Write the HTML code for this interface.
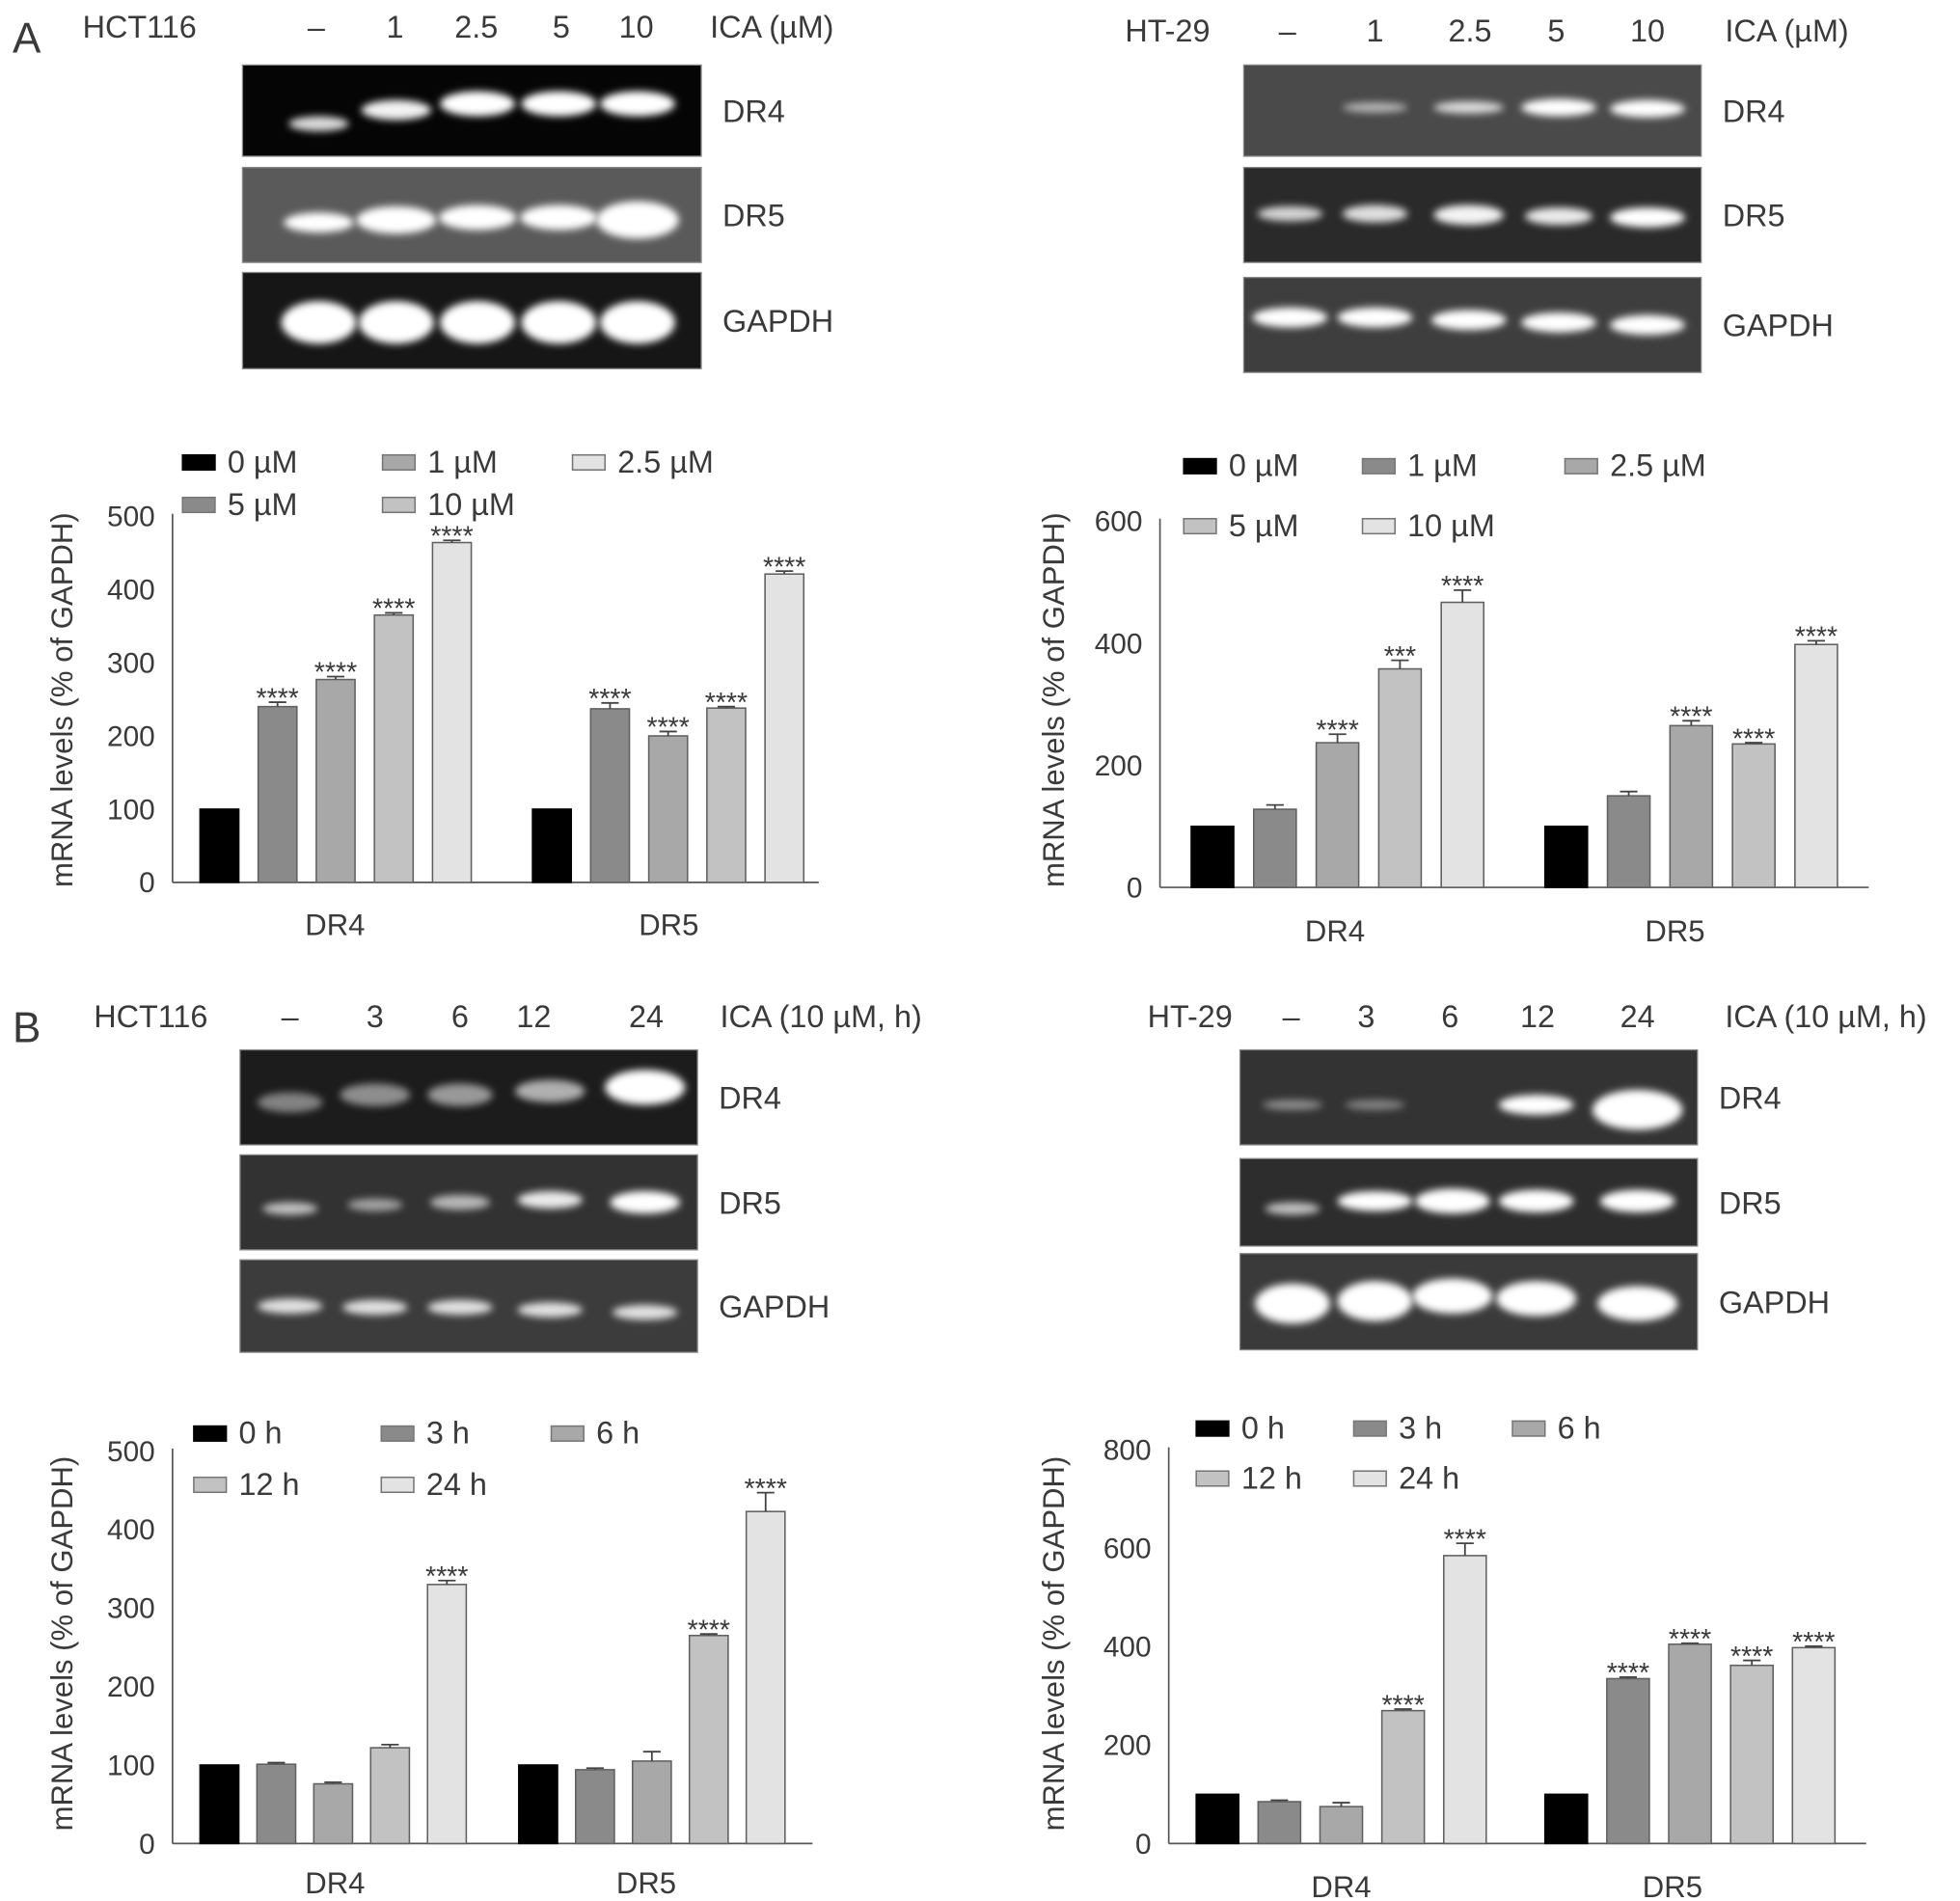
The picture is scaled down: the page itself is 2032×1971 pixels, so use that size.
<!DOCTYPE html>
<html><head><meta charset="utf-8">
<style>
html,body{margin:0;padding:0;background:#fff;}
svg{display:block;}
text{font-family:"Liberation Sans",sans-serif;fill:#3a3a3a;}
</style></head>
<body>
<svg id="fig" width="2032" height="1971" viewBox="0 0 1568 1521" xmlns="http://www.w3.org/2000/svg">
<defs>
<filter id="blur" x="-30%" y="-100%" width="160%" height="300%"><feGaussianBlur stdDeviation="3"/></filter>
</defs>
<g id="root"></g>
</svg>
<script>
// ---- Chart data (top level) ----
var groups = ["DR4", "DR5"];
var aLeftDR4 = [100, 240, 277, 365, 464];
var aLeftDR5 = [100, 237, 200, 238, 421];
var aLeftErr4 = [0, 6, 4, 3, 3];
var aLeftErr5 = [0, 8, 6, 2, 4];
var aLeftStar4 = ["", "****", "****", "****", "****"];
var aLeftStar5 = ["", "****", "****", "****", "****"];
var aLeftTicks = [0, 100, 200, 300, 400, 500];

var aRightDR4 = [100, 128, 237, 358, 467];
var aRightDR5 = [100, 150, 265, 235, 398];
var aRightErr4 = [0, 7, 14, 14, 20];
var aRightErr5 = [0, 7, 8, 2, 6];
var aRightStar4 = ["", "", "****", "***", "****"];
var aRightStar5 = ["", "", "****", "****", "****"];
var aRightTicks = [0, 200, 400, 600];

var bLeftDR4 = [100, 101, 76, 122, 330];
var bLeftDR5 = [100, 94, 105, 265, 423];
var bLeftErr4 = [0, 2, 2, 4, 5];
var bLeftErr5 = [0, 2, 12, 2, 24];
var bLeftStar4 = ["", "", "", "", "****"];
var bLeftStar5 = ["", "", "", "****", "****"];
var bLeftTicks = [0, 100, 200, 300, 400, 500];

var bRightDR4 = [100, 85, 75, 270, 585];
var bRightDR5 = [100, 335, 405, 362, 398];
var bRightErr4 = [0, 3, 8, 3, 25];
var bRightErr5 = [0, 3, 2, 10, 3];
var bRightStar4 = ["", "", "", "****", "****"];
var bRightStar5 = ["", "****", "****", "****", "****"];
var bRightTicks = [0, 200, 400, 600, 800];

var concLabels = ["0 \u00b5M", "1 \u00b5M", "2.5 \u00b5M", "5 \u00b5M", "10 \u00b5M"];
var timeLabels = ["0 h", "3 h", "6 h", "12 h", "24 h"];
// ------------------------------

var NS = "http://www.w3.org/2000/svg";
var root = document.getElementById("root");
var seriesFill = ["#000000", "#8a8a8a", "#a8a8a8", "#c2c2c2", "#e3e3e3"];

function el(tag, attrs, parent) {
  var e = document.createElementNS(NS, tag);
  for (var k in attrs) e.setAttribute(k, attrs[k]);
  (parent || root).appendChild(e);
  return e;
}
function txt(str, x, y, size, anchor, parent) {
  var t = el("text", {x: x, y: y, "font-size": size, "text-anchor": anchor || "start"}, parent);
  t.textContent = str;
  return t;
}

function chart(cfg) {
  var g = el("g", {});
  
  
  var ymax = cfg.ticks[cfg.ticks.length - 1];
  function yS(v) { return cfg.y0 - (v / ymax) * (cfg.y0 - cfg.yTop); }
  var ya = el("line", {x1: cfg.ax, y1: cfg.yTop - 2, x2: cfg.ax, y2: cfg.y0, stroke: "#555", "stroke-width": 1.3}, g);
  
  
  var xa = el("line", {x1: cfg.ax, y1: cfg.y0, x2: cfg.axEnd, y2: cfg.y0, stroke: "#555", "stroke-width": 1.3}, g);
  
  
  cfg.ticks.forEach(function (t) {
    var tl = txt(String(t), cfg.ax - 14, yS(t) + 8, 23, "end", g);
    
    
  });
  var yt = txt("mRNA levels (% of GAPDH)", 0, 0, 24, "middle", g);
  yt.setAttribute("transform", "translate(" + cfg.titleX + "," + cfg.titleY + ") rotate(-90)");
  
  
  var sets = [[cfg.v4, cfg.e4, cfg.s4], [cfg.v5, cfg.e5, cfg.s5]];
  sets.forEach(function (set, gi) {
    var start = cfg.starts[gi];
    set[0].forEach(function (v, i) {
      var x = start + i * cfg.pitch;
      var top = yS(v);
      var r = el("rect", {x: x, y: top, width: cfg.bw, height: cfg.y0 - top, fill: seriesFill[i], stroke: i ? "#606060" : "#000", "stroke-width": 1.2}, g);
      
      
      var err = set[1][i];
      var cx = x + cfg.bw / 2;
      var et = yS(v + err);
      if (err > 0) {
        var eb = el("path", {d: "M" + cx + "," + top + "V" + et + "M" + (cx - 7) + "," + et + "H" + (cx + 7), stroke: "#444", "stroke-width": 1.4, fill: "none"}, g);
        
        
      }
      if (set[2][i]) {
        var st = txt(set[2][i], cx, et + 4, 22, "middle", g);
        
        
      }
    });
    var cl = txt(groups[gi], cfg.catX[gi], cfg.catY, 24, "middle", g);
    
    
  });
  cfg.legend.forEach(function (L, i) {
    var sw = el("rect", {x: L[0], y: L[1] - 14, width: 26, height: 12, fill: cfg.legFill[i], stroke: i ? "#777" : "#000", "stroke-width": 1.2}, g);
    
    
    var lt = txt(cfg.labels[i], L[0] + 36, L[1], 25, "start", g);
    
    
  });
}

function gel(cfg) {
  var g = el("g", {});
  
  
  cfg.rows.forEach(function (row) {
    var r = el("rect", {x: cfg.x, y: row.y, width: cfg.w, height: row.h, fill: row.bg, stroke: "#888", "stroke-width": 1}, g);
    
    
    row.bands.forEach(function (b, i) {
      if (!b) return;
      var cx = cfg.lanes[i];
      var e = el("ellipse", {cx: cx, cy: row.y + b[0], rx: b[1], ry: b[2], fill: "#fff", opacity: b[3], filter: "url(#blur)"}, g);
      
      
    });
    var lt = txt(row.label, cfg.x + cfg.w + 17, row.y + row.h / 2 + 9, 25, "start", g);
    
    
  });
  cfg.header.forEach(function (h) {
    var t = txt(h[0], h[1], cfg.hy, 25, h[2] || "middle", g);
    
    
  });
}

var pA = txt("A", 10, 42, 34, "start");  
var pB = txt("B", 10, 834, 34, "start");  

gel({name: "gel-a-hct116", x: 194, w: 367, lanes: [255, 317, 382, 447, 510], hy: 30,
  header: [["HCT116", 66, "start"], ["\u2013", 253], ["1", 316], ["2.5", 381], ["5", 449], ["10", 509], ["ICA (\u00b5M)", 568, "start"]],
  rows: [
    {label: "DR4", y: 52, h: 73, bg: "#050505", bands: [[47, 24, 6, 0.85], [36, 28, 8, 0.95], [31, 30, 10, 1], [31, 30, 10, 1], [31, 30, 10, 1]]},
    {label: "DR5", y: 134, h: 76, bg: "#5a5a5a", bands: [[44, 28, 8, 1], [42, 32, 11, 1], [40, 31, 10, 1], [40, 31, 10, 1], [42, 33, 15, 1]]},
    {label: "GAPDH", y: 218, h: 77, bg: "#161616", bands: [[40, 30, 17, 1], [40, 30, 17, 1], [40, 30, 17, 1], [40, 30, 17, 1], [40, 30, 17, 1]]}
  ]});
gel({name: "gel-a-ht29", x: 995, w: 366, lanes: [1032, 1100, 1175, 1247, 1318], hy: 33,
  header: [["HT-29", 900, "start"], ["\u2013", 1030], ["1", 1100], ["2.5", 1176], ["5", 1245], ["10", 1318], ["ICA (\u00b5M)", 1380, "start"]],
  rows: [
    {label: "DR4", y: 52, h: 73, bg: "#4a4a4a", bands: [null, [34, 26, 4, 0.6], [34, 28, 5, 0.8], [34, 30, 7, 1], [35, 30, 7, 1]]},
    {label: "DR5", y: 134, h: 76, bg: "#2a2a2a", bands: [[37, 26, 6, 0.8], [37, 26, 7, 0.85], [38, 28, 8, 0.95], [39, 27, 7, 0.9], [40, 30, 8, 1]]},
    {label: "GAPDH", y: 222, h: 76, bg: "#3e3e3e", bands: [[32, 30, 8, 1], [32, 30, 8, 1], [34, 30, 8, 1], [36, 30, 8, 1], [38, 30, 8, 1]]}
  ]});
gel({name: "gel-b-hct116", x: 192, w: 366, lanes: [232, 300, 368, 440, 516], hy: 822,
  header: [["HCT116", 75, "start"], ["\u2013", 232], ["3", 300], ["6", 368], ["12", 427], ["24", 517], ["ICA (10 \u00b5M, h)", 576, "start"]],
  rows: [
    {label: "DR4", y: 840, h: 76, bg: "#1c1c1c", bands: [[42, 26, 8, 0.45], [36, 28, 9, 0.5], [36, 26, 9, 0.55], [33, 28, 9, 0.65], [30, 32, 14, 1]]},
    {label: "DR5", y: 924, h: 76, bg: "#323232", bands: [[43, 22, 5, 0.7], [40, 22, 5, 0.55], [38, 24, 6, 0.65], [36, 26, 7, 0.9], [38, 28, 9, 1]]},
    {label: "GAPDH", y: 1008, h: 74, bg: "#3c3c3c", bands: [[37, 26, 6, 0.85], [38, 26, 6, 0.85], [38, 26, 6, 0.85], [40, 26, 6, 0.85], [42, 26, 6, 0.85]]}
  ]});
gel({name: "gel-b-ht29", x: 992, w: 366, lanes: [1034, 1100, 1162, 1229, 1310], hy: 822,
  header: [["HT-29", 918, "start"], ["\u2013", 1033], ["3", 1093], ["6", 1160], ["12", 1230], ["24", 1310], ["ICA (10 \u00b5M, h)", 1380, "start"]],
  rows: [
    {label: "DR4", y: 840, h: 76, bg: "#333333", bands: [[44, 24, 4, 0.45], [44, 24, 4, 0.4], null, [44, 30, 8, 1], [48, 36, 16, 1]]},
    {label: "DR5", y: 927, h: 70, bg: "#2d2d2d", bands: [[40, 22, 5, 0.7], [34, 30, 8, 1], [34, 30, 10, 1], [34, 30, 9, 1], [34, 30, 9, 1]]},
    {label: "GAPDH", y: 1003, h: 77, bg: "#3a3a3a", bands: [[40, 30, 16, 1], [38, 30, 16, 1], [34, 32, 14, 1], [36, 32, 14, 1], [40, 32, 14, 1]]}
  ]});

chart({name: "chart-a-hct116", ax: 138, axEnd: 655, y0: 706, yTop: 413, ticks: aLeftTicks,
  v4: aLeftDR4, e4: aLeftErr4, s4: aLeftStar4, v5: aLeftDR5, e5: aLeftErr5, s5: aLeftStar5,
  starts: [160, 426], pitch: 46.5, bw: 31, catX: [268, 535], catY: 748, titleX: 58, titleY: 560,
  labels: concLabels, legFill: ["#000", "#a8a8a8", "#e3e3e3", "#8a8a8a", "#c2c2c2"],
  legend: [[146, 378], [306, 378], [458, 378], [146, 412], [306, 412]]});
chart({name: "chart-a-ht29", ax: 928, axEnd: 1495, y0: 710, yTop: 417, ticks: aRightTicks,
  v4: aRightDR4, e4: aRightErr4, s4: aRightStar4, v5: aRightDR5, e5: aRightErr5, s5: aRightStar5,
  starts: [953, 1236], pitch: 50, bw: 34, catX: [1068, 1340], catY: 753, titleX: 851, titleY: 560,
  labels: concLabels, legFill: ["#000", "#8a8a8a", "#a8a8a8", "#c2c2c2", "#e3e3e3"],
  legend: [[947, 381], [1090, 381], [1252, 381], [947, 429], [1090, 429]]});
chart({name: "chart-b-hct116", ax: 138, axEnd: 650, y0: 1475, yTop: 1161, ticks: bLeftTicks,
  v4: bLeftDR4, e4: bLeftErr4, s4: bLeftStar4, v5: bLeftDR5, e5: bLeftErr5, s5: bLeftStar5,
  starts: [160, 415], pitch: 45.5, bw: 31, catX: [268, 517], catY: 1515, titleX: 58, titleY: 1315,
  labels: timeLabels, legFill: seriesFill,
  legend: [[155, 1155], [305, 1155], [441, 1155], [155, 1196], [305, 1196]]});
chart({name: "chart-b-ht29", ax: 935, axEnd: 1493, y0: 1475, yTop: 1160, ticks: bRightTicks,
  v4: bRightDR4, e4: bRightErr4, s4: bRightStar4, v5: bRightDR5, e5: bRightErr5, s5: bRightStar5,
  starts: [957, 1236], pitch: 49.5, bw: 34, catX: [1073, 1338], catY: 1518, titleX: 851, titleY: 1315,
  labels: timeLabels, legFill: seriesFill,
  legend: [[957, 1151], [1083, 1151], [1210, 1151], [957, 1191], [1083, 1191]]});
</script>
</body></html>
